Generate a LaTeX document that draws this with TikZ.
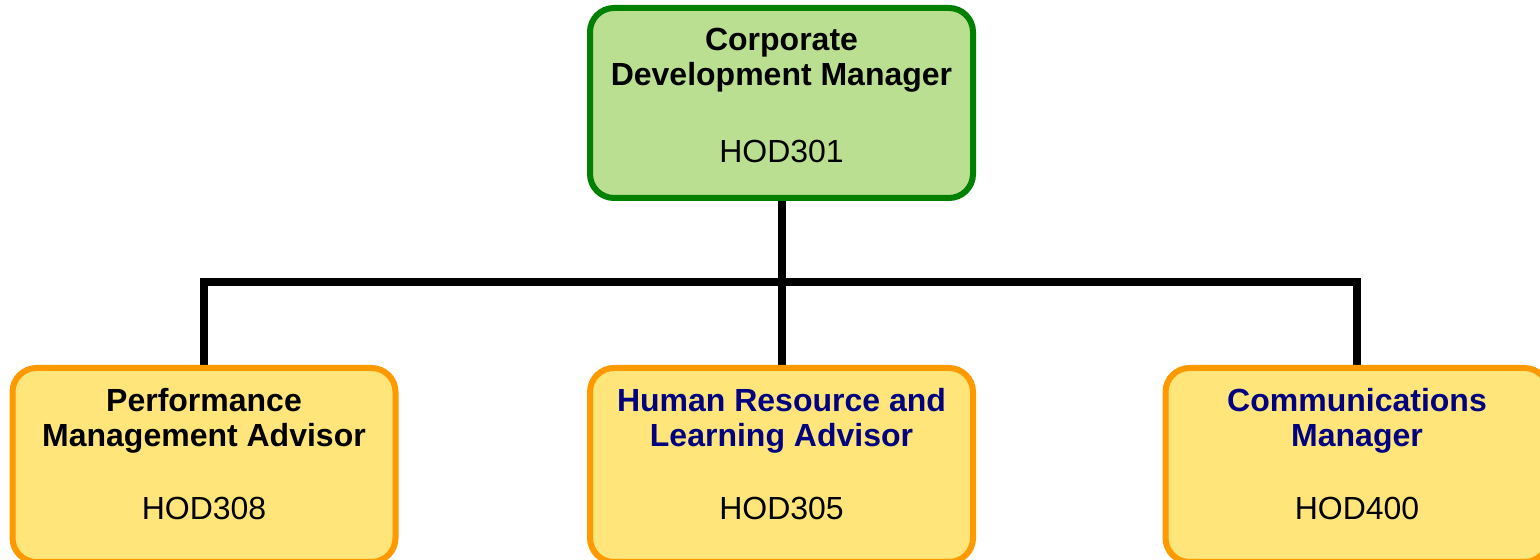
\documentclass[tikz,border=0pt]{standalone}
\usepackage{fontspec}
\setmainfont{Liberation Sans}
\usetikzlibrary{positioning}
\usetikzlibrary{backgrounds}

\definecolor{mgrfill}{HTML}{BBDF91}
\definecolor{mgrline}{HTML}{008000}
\definecolor{advfill}{HTML}{FFE57A}
\definecolor{advline}{HTML}{FF9900}
\definecolor{navytext}{HTML}{000080}

\tikzset{
 post/.style={draw, rounded corners=12pt, line width=3pt, minimum width=191.5pt, minimum height=95pt, inner sep=0pt},
 mgr/.style={post, fill=mgrfill, draw=mgrline},
 adv/.style={post, fill=advfill, draw=advline, minimum height=97pt},
 title/.style={font=\fontsize{16}{17.5}\selectfont\bfseries, align=center},
 code/.style={font=\fontsize{16}{17.5}\selectfont},
 link/.style={line width=4pt, line join=miter}
}

\begin{document}
\begin{tikzpicture}[x=0.5pt,y=0.5pt]
 \useasboundingbox (0,0) rectangle (1540,560);
 % boxes
 \node[mgr] (cdm) at (781.5,457) {};
 \node[adv] (pma) at (204,95) {};
 \node[adv] (hrl) at (781.5,95) {};
 \node[adv] (com) at (1357,95) {};
 % texts
 \node[title] (cdmt) at ([yshift=-27.5pt]cdm.north) {Corporate\\Development Manager};
 \node[code] (cdmc) at ([yshift=-73pt]cdm.north) {HOD301};
 \node[title] (pmat) at ([yshift=-28pt]pma.north) {Performance\\Management Advisor};
 \node[code] (pmac) at ([yshift=-71.5pt]pma.north) {HOD308};
 \node[title, text=navytext] (hrlt) at ([yshift=-28pt]hrl.north) {Human Resource and\\Learning Advisor};
 \node[code] (hrlc) at ([yshift=-71.5pt]hrl.north) {HOD305};
 \node[title, text=navytext] (comt) at ([yshift=-28pt]com.north) {Communications\\Manager};
 \node[code] (comc) at ([yshift=-71.5pt]com.north) {HOD400};
 % lines
 \coordinate (bus) at (781.5,278);
 \begin{scope}[on background layer]
 \draw[link] (cdm) -- (bus) -- (hrl);
 \draw[link] (pma.north) |- (bus) -| (com.north);
 \end{scope}
\end{tikzpicture}
\end{document}
